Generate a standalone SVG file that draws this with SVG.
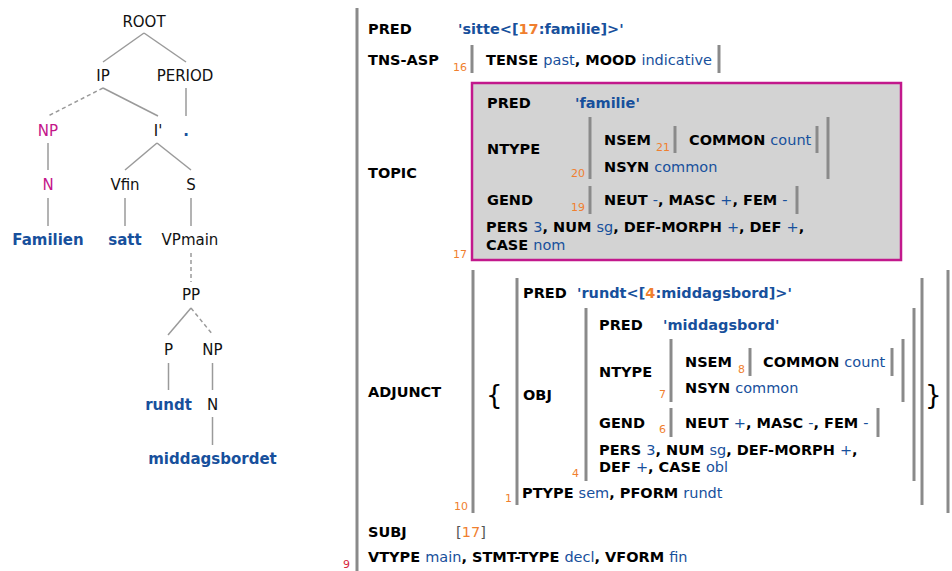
<svg xmlns="http://www.w3.org/2000/svg" width="952" height="571" viewBox="0 0 952 571">
  <style>
    .t { font-family: "DejaVu Sans", Verdana, sans-serif; font-size: 15px; fill: #111; text-anchor: middle; }
    .tm { fill: #c4168a; }
    .tw { fill: #17509c; font-weight: bold; }
    .e { stroke: #9a9a9a; stroke-width: 1.5; fill: none; }
    .d { stroke-dasharray: 4 3; }
    .f { font-family: "DejaVu Sans", Verdana, sans-serif; font-size: 14.5px; font-weight: bold; fill: #000; }
    .v { fill: #17509c; font-weight: normal; }
    .vb { fill: #17509c; font-weight: bold; }
    .ib { fill: #f07f2f; }
    .ix { font-family: "DejaVu Sans", Verdana, sans-serif; font-size: 11px; fill: #f07f2f; }
    .br { fill: #555; font-weight: normal; }
    .bar { stroke: #8a8a8a; stroke-width: 3; fill: none; }
    .brace { font-family: "DejaVu Sans", Verdana, sans-serif; font-size: 26px; fill: #000; }
  </style>

  <!-- c-structure tree -->
  <g id="tree-edges">
    <line class="e" x1="144" y1="33" x2="103" y2="62"/>
    <line class="e" x1="144" y1="33" x2="186" y2="62"/>
    <line class="e d" x1="103" y1="88" x2="48" y2="116"/>
    <line class="e" x1="103" y1="88" x2="158" y2="116"/>
    <line class="e" x1="186" y1="88" x2="186" y2="116"/>
    <line class="e" x1="48" y1="143" x2="48" y2="170"/>
    <line class="e" x1="157" y1="143" x2="125" y2="170"/>
    <line class="e" x1="157" y1="143" x2="191" y2="170"/>
    <line class="e" x1="48" y1="198" x2="48" y2="226"/>
    <line class="e" x1="125" y1="198" x2="125" y2="226"/>
    <line class="e" x1="191" y1="198" x2="191" y2="226"/>
    <line class="e d" x1="191" y1="253" x2="191" y2="282"/>
    <line class="e" x1="191" y1="308" x2="168" y2="335"/>
    <line class="e d" x1="191" y1="308" x2="213" y2="335"/>
    <line class="e" x1="168.5" y1="363" x2="168.5" y2="390"/>
    <line class="e" x1="212.5" y1="363" x2="212.5" y2="390"/>
    <line class="e" x1="212.5" y1="417" x2="212.5" y2="445"/>
  </g>

  <g id="n-root"><text class="t" x="144" y="27">ROOT</text></g>
  <g id="n-ip"><text class="t" x="103" y="81">IP</text></g>
  <g id="n-period"><text class="t" x="185" y="81">PERIOD</text></g>
  <g id="n-np"><text class="t tm" x="48" y="136">NP</text></g>
  <g id="n-ibar"><text class="t" x="158" y="136">I'</text></g>
  <g id="n-dot"><text class="t tw" x="186" y="136">.</text></g>
  <g id="n-n"><text class="t tm" x="48" y="190">N</text></g>
  <g id="n-vfin"><text class="t" x="125" y="190">Vfin</text></g>
  <g id="n-s"><text class="t" x="191" y="190">S</text></g>
  <g id="n-familien"><text class="t tw" x="48" y="245">Familien</text></g>
  <g id="n-satt"><text class="t tw" x="125" y="245">satt</text></g>
  <g id="n-vpmain"><text class="t" x="190" y="245">VPmain</text></g>
  <g id="n-pp"><text class="t" x="191" y="300">PP</text></g>
  <g id="n-p"><text class="t" x="168.5" y="355">P</text></g>
  <g id="n-np2"><text class="t" x="212.5" y="355">NP</text></g>
  <g id="n-rundt"><text class="t tw" x="168.5" y="410">rundt</text></g>
  <g id="n-n2"><text class="t" x="212.5" y="410">N</text></g>
  <g id="n-middagsbordet"><text class="t tw" x="212.5" y="464">middagsbordet</text></g>

  <!-- f-structure 9 (outer) -->
  <g id="f9">
    <line class="bar" x1="357" y1="8" x2="357" y2="571"/>
    <text x="343" y="568" style="font-family:'DejaVu Sans',Verdana,sans-serif;font-size:11px;fill:#d7263d">9</text>
    <text class="f" x="368" y="34">PRED</text>
    <text class="f" x="458" y="34"><tspan class="vb">'sitte&lt;[</tspan><tspan class="ib">17</tspan><tspan class="vb">:familie]&gt;'</tspan></text>
    <text class="f" x="368" y="65">TNS-ASP</text>
    <text class="f" x="368" y="178">TOPIC</text>
    <text class="f" x="368" y="397">ADJUNCT</text>
    <text class="f" x="368" y="537">SUBJ</text>
    <text class="f" x="456" y="537"><tspan class="br">[</tspan><tspan class="ib" font-weight="normal">17</tspan><tspan class="br">]</tspan></text>
    <text class="f" x="368" y="562">VTYPE <tspan class="v">main</tspan>, STMT-TYPE <tspan class="v">decl</tspan>, VFORM <tspan class="v">fin</tspan></text>
  </g>

  <!-- f-structure 16 (tense/aspect) -->
  <g id="f16">
    <text class="ix" x="453" y="71">16</text>
    <line class="bar" x1="472" y1="45" x2="472" y2="73"/>
    <line class="bar" x1="719" y1="45" x2="719" y2="73"/>
    <text class="f" x="486" y="65">TENSE <tspan class="v">past</tspan>, MOOD <tspan class="v">indicative</tspan></text>
  </g>

  <!-- f-structure 17 (topic, shared with subject) -->
  <g id="f17">
    <rect x="472" y="83" width="429" height="177" fill="#d3d3d3" stroke="#c2188c" stroke-width="2.5"/>
    <text class="ix" x="453" y="258">17</text>
    <text class="f" x="487" y="108">PRED</text>
    <text class="f vb" x="575" y="108">'familie'</text>
    <text class="f" x="487" y="154">NTYPE</text>
    <text class="f" x="487" y="205">GEND</text>
    <text class="f" x="486" y="232">PERS <tspan class="v">3</tspan>, NUM <tspan class="v">sg</tspan>, DEF-MORPH <tspan class="v">+</tspan>, DEF <tspan class="v">+</tspan>,</text>
    <text class="f" x="486" y="250">CASE <tspan class="v">nom</tspan></text>
  </g>

  <g id="f20">
    <text class="ix" x="571" y="177">20</text>
    <line class="bar" x1="590" y1="117" x2="590" y2="179"/>
    <line class="bar" x1="828" y1="117" x2="828" y2="179"/>
    <text class="f" x="604" y="145">NSEM</text>
    <text class="f" x="604" y="172">NSYN <tspan class="v">common</tspan></text>
  </g>

  <g id="f21">
    <text class="ix" x="656" y="151">21</text>
    <line class="bar" x1="675" y1="126" x2="675" y2="153"/>
    <line class="bar" x1="817" y1="126" x2="817" y2="153"/>
    <text class="f" x="689" y="145">COMMON <tspan class="v">count</tspan></text>
  </g>

  <g id="f19">
    <text class="ix" x="571" y="211">19</text>
    <line class="bar" x1="590" y1="186" x2="590" y2="214"/>
    <line class="bar" x1="797" y1="186" x2="797" y2="214"/>
    <text class="f" x="604" y="205">NEUT <tspan class="v">-</tspan>, MASC <tspan class="v">+</tspan>, FEM <tspan class="v">-</tspan></text>
  </g>

  <!-- set 10 (adjunct) -->
  <g id="f10">
    <text class="ix" x="454" y="510">10</text>
    <line class="bar" x1="473" y1="270" x2="473" y2="513"/>
    <line class="bar" x1="948" y1="270" x2="948" y2="513"/>
    <text class="brace" x="486" y="404">{</text>
    <text class="brace" x="925" y="404">}</text>
  </g>

  <!-- f-structure 1 (rundt) -->
  <g id="f1">
    <text class="ix" x="505" y="502">1</text>
    <line class="bar" x1="517" y1="278" x2="517" y2="505"/>
    <line class="bar" x1="922" y1="278" x2="922" y2="505"/>
    <text class="f" x="523" y="298">PRED</text>
    <text class="f" x="577" y="298"><tspan class="vb">'rundt&lt;[</tspan><tspan class="ib">4</tspan><tspan class="vb">:middagsbord]&gt;'</tspan></text>
    <text class="f" x="523" y="400">OBJ</text>
    <text class="f" x="522" y="498">PTYPE <tspan class="v">sem</tspan>, PFORM <tspan class="v">rundt</tspan></text>
  </g>

  <!-- f-structure 4 (middagsbord) -->
  <g id="f4">
    <text class="ix" x="572" y="477">4</text>
    <line class="bar" x1="586" y1="308" x2="586" y2="481"/>
    <line class="bar" x1="914" y1="308" x2="914" y2="481"/>
    <text class="f" x="599" y="330">PRED</text>
    <text class="f vb" x="663" y="330">'middagsbord'</text>
    <text class="f" x="599" y="377">NTYPE</text>
    <text class="f" x="599" y="428">GEND</text>
    <text class="f" x="599" y="455">PERS <tspan class="v">3</tspan>, NUM <tspan class="v">sg</tspan>, DEF-MORPH <tspan class="v">+</tspan>,</text>
    <text class="f" x="599" y="472">DEF <tspan class="v">+</tspan>, CASE <tspan class="v">obl</tspan></text>
  </g>

  <g id="f7">
    <text class="ix" x="659" y="398">7</text>
    <line class="bar" x1="671" y1="339" x2="671" y2="402"/>
    <line class="bar" x1="903" y1="339" x2="903" y2="402"/>
    <text class="f" x="685" y="367">NSEM</text>
    <text class="f" x="685" y="393">NSYN <tspan class="v">common</tspan></text>
  </g>

  <g id="f8">
    <text class="ix" x="738" y="373">8</text>
    <line class="bar" x1="750" y1="348" x2="750" y2="376"/>
    <line class="bar" x1="892" y1="348" x2="892" y2="376"/>
    <text class="f" x="763" y="367">COMMON <tspan class="v">count</tspan></text>
  </g>

  <g id="f6">
    <text class="ix" x="659" y="433">6</text>
    <line class="bar" x1="671" y1="408" x2="671" y2="437"/>
    <line class="bar" x1="878" y1="408" x2="878" y2="437"/>
    <text class="f" x="685" y="428">NEUT <tspan class="v">+</tspan>, MASC <tspan class="v">-</tspan>, FEM <tspan class="v">-</tspan></text>
  </g>
</svg>
